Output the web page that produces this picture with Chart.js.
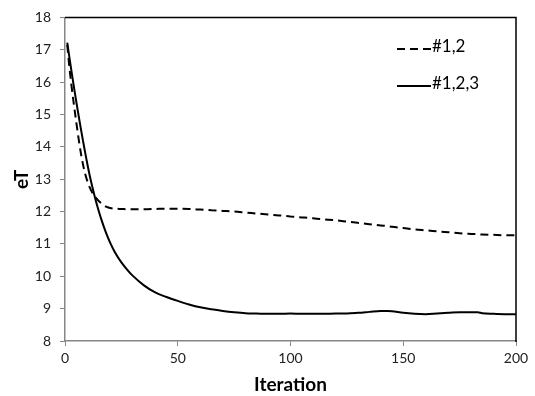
<!DOCTYPE html>
<html>
<head>
<meta charset="utf-8">
<script src="https://cdn.jsdelivr.net/npm/chart.js@4.4.1/dist/chart.umd.min.js"></script>
<style>
  html, body { margin: 0; padding: 0; background: #fff; }
  canvas { display: block; }
</style>
</head>
<body>
<canvas id="myChart" width="535" height="396"></canvas>
<script>
// data
const iterations = [1, 2, 3, 4, 5, 6, 7, 8, 9, 10, 11, 12, 14, 16, 18, 20, 22, 25, 28, 30, 35, 40, 45, 50, 55, 60, 65, 70, 75, 80, 85, 90, 95, 100,
  105, 110, 115, 120, 125, 130, 135, 140, 143, 145, 150, 155, 160, 165, 170, 175, 180, 183, 185, 190, 195, 200];
const run12 = [17.15, 16.42, 15.82, 15.28, 14.76, 14.27, 13.82, 13.45, 13.15, 12.92, 12.74, 12.6, 12.4, 12.26, 12.16, 12.11, 12.09, 12.08, 12.07, 12.07, 12.07, 12.08, 12.09, 12.09, 12.08, 12.06, 12.04, 12.02, 12.0, 11.97, 11.94, 11.91, 11.88, 11.85,
  11.82, 11.79, 11.76, 11.73, 11.69, 11.65, 11.61, 11.57, 11.55, 11.53, 11.49, 11.45, 11.42, 11.39, 11.36, 11.33, 11.31, 11.3, 11.29, 11.28, 11.27, 11.27];
const run123 = [17.22, 16.74, 16.28, 15.83, 15.4, 14.98, 14.57, 14.18, 13.8, 13.44, 13.1, 12.8, 12.25, 11.78, 11.38, 11.04, 10.76, 10.43, 10.17, 10.02, 9.72, 9.5, 9.36, 9.24, 9.13, 9.04, 8.98, 8.93, 8.89, 8.86, 8.85, 8.84, 8.84, 8.85,
  8.84, 8.84, 8.84, 8.85, 8.85, 8.87, 8.9, 8.93, 8.93, 8.92, 8.87, 8.84, 8.83, 8.85, 8.87, 8.89, 8.89, 8.89, 8.86, 8.84, 8.83, 8.83];
const seriesNames = ['#1,2', '#1,2,3'];
const xTicks = [0, 50, 100, 150, 200];
const yTicks = [8, 9, 10, 11, 12, 13, 14, 15, 16, 17, 18];

const FONT = 'Lato, "Open Sans", sans-serif';

// black frame on top and right of the plot area
const frame = {
  id: 'frame',
  afterDraw(chart) {
    const { ctx, chartArea: a } = chart;
    ctx.save();
    ctx.strokeStyle = '#000';
    ctx.lineWidth = 1.5;
    ctx.beginPath();
    ctx.moveTo(a.left, a.top);
    ctx.lineTo(a.right, a.top);
    ctx.lineTo(a.right, a.bottom + 1);
    ctx.stroke();
    ctx.restore();
  }
};

// legend inside the plot, top right
const insideLegend = {
  id: 'insideLegend',
  afterDraw(chart) {
    const ctx = chart.ctx;
    const rows = [49, 86];
    ctx.save();
    chart.data.datasets.forEach((ds, i) => {
      const y = rows[i];
      ctx.strokeStyle = ds.borderColor;
      ctx.lineWidth = 2;
      ctx.setLineDash(ds.borderDash || []);
      ctx.beginPath();
      ctx.moveTo(397, y);
      ctx.lineTo(431, y);
      ctx.stroke();
      ctx.setLineDash([]);
      ctx.fillStyle = '#000';
      ctx.font = '17px ' + FONT;
      ctx.textBaseline = 'middle';
      ctx.fillText(ds.label, 432, y - 2);
    });
    ctx.restore();
  }
};

const ctx = document.getElementById('myChart').getContext('2d');
const myChart = new Chart(ctx, {
  type: 'line',
  data: {
    datasets: [{
      label: seriesNames[0],
      data: iterations.map((x, i) => ({ x: x, y: run12[i] })),
      borderColor: '#000',
      borderWidth: 2,
      borderDash: [8, 5],
      pointRadius: 0,
      cubicInterpolationMode: 'monotone'
    }, {
      label: seriesNames[1],
      data: iterations.map((x, i) => ({ x: x, y: run123[i] })),
      borderColor: '#000',
      borderWidth: 2,
      pointRadius: 0,
      cubicInterpolationMode: 'monotone'
    }]
  },
  options: {
    responsive: false,
    animation: false,
    devicePixelRatio: 1,
    layout: { padding: { top: 14, right: 19, left: 0, bottom: 0 } },
    plugins: {
      legend: { display: false },
      tooltip: { enabled: false }
    },
    scales: {
      x: {
        type: 'linear',
        min: 0,
        max: 200,
        afterFit(scale) { scale.height = 55; },
        afterBuildTicks(scale) { scale.ticks = xTicks.map(v => ({ value: v })); },
        border: { color: '#868686', width: 1.5 },
        grid: { drawOnChartArea: false, color: '#868686', tickLength: 5 },
        ticks: { color: '#222', font: { family: FONT, size: 14 }, padding: 4, maxRotation: 0 },
        title: {
          display: true,
          text: 'Iteration',
          color: '#000',
          font: { family: FONT, size: 19, weight: 'bold' },
          padding: { top: 2, bottom: 0 }
        }
      },
      y: {
        min: 8,
        max: 18,
        afterFit(scale) { scale.width = 65; },
        afterBuildTicks(scale) { scale.ticks = yTicks.map(v => ({ value: v })); },
        border: { color: '#868686', width: 1.5 },
        grid: { drawOnChartArea: false, color: '#868686', tickLength: 5 },
        ticks: { color: '#222', font: { family: FONT, size: 14 }, padding: 9 },
        title: {
          display: true,
          text: 'eT',
          color: '#000',
          font: { family: FONT, size: 19, weight: 'bold' },
          padding: { top: 10, bottom: 0 }
        }
      }
    }
  },
  plugins: [frame, insideLegend]
});
</script>
</body>
</html>
